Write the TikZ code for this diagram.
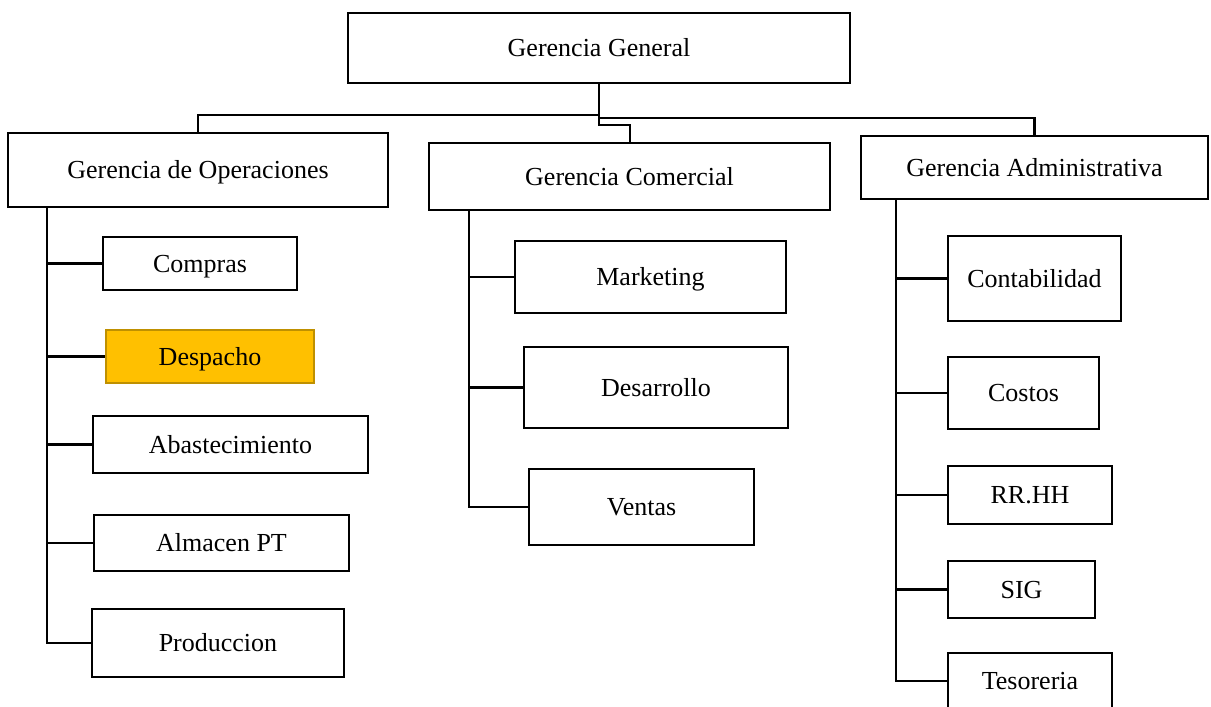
\documentclass[tikz,border=0pt]{standalone}
\usepackage{fontspec}
\setmainfont{Liberation Serif}
\definecolor{despfill}{HTML}{FFC000}
\definecolor{despline}{HTML}{BF9000}
\tikzset{
  unit/.style={draw=black, line width=2.7pt, rectangle, inner sep=0pt,
    font=\fontsize{26}{30}\selectfont, text height=17.2pt, text depth=0pt},
  link/.style={draw=black, line width=2.7pt},
}
\begin{document}
\begin{tikzpicture}[x=1pt,y=-1pt]
\useasboundingbox (0,0) rectangle (1211,707);
\clip (0,0) rectangle (1211,707);
\fill[white] (0,0) rectangle (1211,707);

% top level
\node[unit, minimum width=502pt, minimum height=70pt] (gg) at (599,48) {Gerencia General};

% second level
\node[unit, minimum width=380pt, minimum height=74pt] (ops) at (198,170) {Gerencia de Operaciones};
\node[unit, minimum width=401pt, minimum height=67pt] (com) at (629.5,176.5) {Gerencia Comercial};
\node[unit, minimum width=347pt, minimum height=63pt] (adm) at (1034.5,167.5) {Gerencia Administrativa};

% operations units
\node[unit, minimum width=194pt, minimum height=53pt] (compras) at (200,263.5) {Compras};
\node[unit, draw=despline, fill=despfill, line width=1.8pt, minimum width=208pt, minimum height=53pt] (despacho) at (210,356.5) {Despacho};
\node[unit, minimum width=275pt, minimum height=57pt] (abast) at (230.5,444.5) {Abastecimiento};
\node[unit, minimum width=255pt, minimum height=56pt] (almacen) at (221.5,543) {Almacen PT};
\node[unit, minimum width=252pt, minimum height=68pt] (prod) at (218,643) {Produccion};

% commercial units
\node[unit, minimum width=271pt, minimum height=72pt] (mkt) at (650.5,277) {Marketing};
\node[unit, minimum width=264pt, minimum height=81pt] (des) at (656,387.5) {Desarrollo};
\node[unit, minimum width=225pt, minimum height=76pt] (ventas) at (641.5,507) {Ventas};

% administrative units
\node[unit, minimum width=173pt, minimum height=85pt] (cont) at (1034.5,278.5) {Contabilidad};
\node[unit, minimum width=151pt, minimum height=72pt] (costos) at (1023.5,393) {Costos};
\node[unit, minimum width=164pt, minimum height=58pt] (rrhh) at (1030,495) {RR.HH};
\node[unit, minimum width=147pt, minimum height=57pt] (sig) at (1021.5,589.5) {SIG};
\node[unit, minimum width=164pt, minimum height=56pt] (teso) at (1030,681) {Tesoreria};

% junctions of the top bus
\coordinate (jl) at (599,115);
\coordinate (jr) at (599,118);
\coordinate (js) at (599,125);
\coordinate (jc) at (630,125);

\draw[link] (gg.south) -- (js) -- (jc) -- (jc |- com.north);
\draw[link] (jl) -| (ops.north);
\draw[link] (jr) -| (adm.north);

% operations branch
\coordinate (opsbus) at (47,207);
\foreach \n in {compras,despacho,abast,almacen,prod}
  \draw[link] (opsbus) |- (\n.west);

% commercial branch
\coordinate (combus) at (469,210);
\foreach \n in {mkt,des,ventas}
  \draw[link] (combus) |- (\n.west);

% administrative branch
\coordinate (admbus) at (896,199);
\foreach \n in {cont,costos,rrhh,sig,teso}
  \draw[link] (admbus) |- (\n.west);
\end{tikzpicture}
\end{document}
